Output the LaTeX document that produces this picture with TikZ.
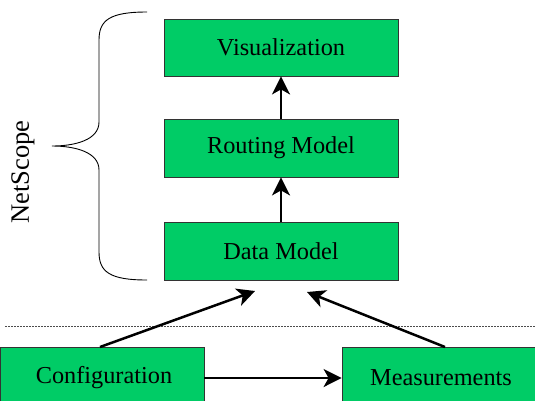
\documentclass[tikz,border=0pt]{standalone}
\usepackage{fontspec}
\setmainfont{Liberation Serif}
\usetikzlibrary{arrows.meta}
\definecolor{boxgreen}{RGB}{0,204,102}
\tikzset{
  labelfont/.style={font=\fontsize{24.3}{28}\selectfont},
  layer/.style={draw=black!80, line width=0.8pt, fill=boxgreen, inner sep=0pt, labelfont},
  flow/.style={line width=2.5pt, -{Stealth[length=18pt,width=18pt,inset=5pt]}}
}
\begin{document}
\begin{tikzpicture}[x=1pt,y=-1pt]
\useasboundingbox (0,0) rectangle (535,400);
% stacked NetScope layers
\node[layer, minimum width=234pt, minimum height=57pt] (vis) at (281,47.5) {Visualization};
\node[layer, minimum width=234pt, minimum height=58pt] (route) at (281,148) {Routing Model};
\node[layer, minimum width=234pt, minimum height=58pt] (data) at (281,251) {Data Model};
% input sources below the separator
\node[layer, minimum width=204pt, minimum height=58pt] (conf) at (102,376) {};
\node[labelfont] (conflbl) at (104,378) {Configuration};
\node[layer, minimum width=194pt, minimum height=58pt] (meas) at (439,376) {};
\node[labelfont] (measlbl) at (441,378) {Measurements};
% separator
\coordinate (sepL) at (5,326);
\coordinate (sepR) at (535,326);
\draw[dashed, dash pattern=on 2pt off 1pt, line width=0.6pt, black!70] (sepL) -- (sepR);
% layer arrows
\draw[flow] (route.north) -- (vis.south);
\draw[flow] (data.north) -- (route.south);
% inputs feeding the data model
\coordinate (confTop) at (100,347);
\coordinate (measTop) at (445,347);
\coordinate (inL) at (255,291);
\coordinate (inR) at (307,292);
\draw[flow] (confTop) -- (inL);
\draw[flow] (measTop) -- (inR);
\draw[flow] (conf.east |- 0,378) -- (meas.west |- 0,378);
% brace around the NetScope layers
\coordinate (btop) at (147,12);
\coordinate (bmid) at (52,146);
\coordinate (bbot) at (147,280);
\draw[line width=0.9pt] (btop) .. controls (110,12) and (99,20) .. (99,40)
  -- (99,122) .. controls (99,140) and (75,146) .. (bmid)
  .. controls (75,146) and (99,152) .. (99,170)
  -- (99,252) .. controls (99,272) and (110,280) .. (bbot);
\node[rotate=90, font=\fontsize{26.5}{30}\selectfont] (ns) at (23,172) {NetScope};
\end{tikzpicture}
\end{document}
